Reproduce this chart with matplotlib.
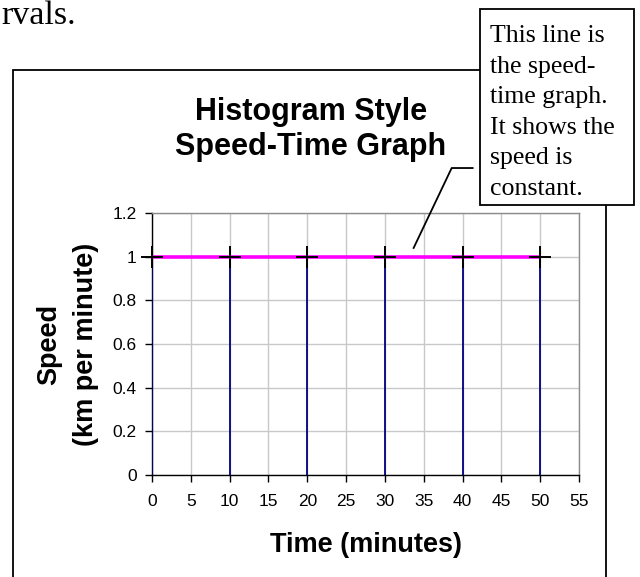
import matplotlib
matplotlib.use("Agg")
import matplotlib.pyplot as plt
from matplotlib.patches import Rectangle
from matplotlib.lines import Line2D

# ---- data ----
time_min = [0, 10, 20, 30, 40, 50]
speed = [1, 1, 1, 1, 1, 1]
x_ticks = [0, 5, 10, 15, 20, 25, 30, 35, 40, 45, 50, 55]
y_ticks = [0, 0.2, 0.4, 0.6, 0.8, 1.0, 1.2]
y_tick_labels = ["0", "0.2", "0.4", "0.6", "0.8", "1", "1.2"]
title_lines = ["Histogram Style", "Speed-Time Graph"]
callout_lines = ["This line is", "the speed-", "time graph.", "It shows the", "speed is", "constant."]

W, H = 640, 577
fig = plt.figure(figsize=(W / 100, H / 100), dpi=100)
fig.patch.set_facecolor("white")

def fx(px):
    return px / W

def fy(py):
    return 1 - py / H

SANS = ["Liberation Sans", "DejaVu Sans"]
SERIF = ["Liberation Serif", "DejaVu Serif"]

# outer chart frame (bottom runs off the page)
fig.add_artist(Rectangle((fx(13), fy(600)), fx(606) - fx(13), fy(70) - fy(600),
                         transform=fig.transFigure, fill=False, edgecolor="black",
                         linewidth=1.3, zorder=1))

# text fragment at top-left
fig.text(fx(1), fy(24), "rvals.", family=SERIF, fontsize=24.5, ha="left", va="baseline")

# axes
ax = fig.add_axes([fx(152), fy(475), fx(579) - fx(152), fy(213) - fy(475)])
ax.set_xlim(0, 55)
ax.set_ylim(0, 1.2)
ax.set_xticks(x_ticks)
ax.set_xticklabels([str(v) for v in x_ticks])
ax.set_yticks(y_ticks)
ax.set_yticklabels(y_tick_labels)
ax.grid(True, color="#c8c8c8", linewidth=1.0)
ax.set_axisbelow(True)
for s in ["top", "right"]:
    ax.spines[s].set_color("#8c8c8c")
    ax.spines[s].set_linewidth(1.0)
for s in ["left", "bottom"]:
    ax.spines[s].set_color("black")
    ax.spines[s].set_linewidth(1.0)
ax.tick_params(axis="x", direction="out", length=5, width=1, pad=9, labelsize=12.5)
ax.tick_params(axis="y", direction="out", length=5, width=1, pad=6, labelsize=12.5)
for lab in ax.get_xticklabels() + ax.get_yticklabels():
    lab.set_family(SANS)

# blue vertical bars
ax.vlines(time_min, 0, speed, colors="#000080", linewidth=1.3, zorder=3)
# magenta speed line
ax.plot(time_min, speed, color="#ff00ff", linewidth=2.6, zorder=4, solid_capstyle="butt")
# black plus markers
ax.plot(time_min, speed, linestyle="none", marker="+", markersize=16,
        markeredgewidth=1.4, color="black", zorder=5, clip_on=False)

# callout leader line
ax.add_line(Line2D([33.7, 38.6, 41.3], [1.04, 1.406, 1.406], color="black",
                   linewidth=1.3, clip_on=False, zorder=6))

# titles
fig.text(fx(311), fy(120), title_lines[0], family=SANS, fontsize=22, fontweight="bold",
         ha="center", va="baseline")
fig.text(fx(311), fy(155), title_lines[1], family=SANS, fontsize=22, fontweight="bold",
         ha="center", va="baseline")

# axis labels
fig.text(fx(365.5), fy(552), "Time (minutes)", family=SANS, fontsize=19.5,
         fontweight="bold", ha="center", va="baseline")
fig.text(fx(49), fy(344), "Speed", family=SANS, fontsize=19.5, fontweight="bold",
         rotation=90, ha="center", va="center")
fig.text(fx(86), fy(344), "(km per minute)", family=SANS, fontsize=19.5,
         fontweight="bold", rotation=90, ha="center", va="center")

# callout box
fig.add_artist(Rectangle((fx(480), fy(205)), fx(634) - fx(480), fy(9) - fy(205),
                         transform=fig.transFigure, facecolor="white", edgecolor="black",
                         linewidth=1.3, zorder=10))
base = 42
step = 30.6
for i, line in enumerate(callout_lines):
    t = fig.text(fx(490), fy(base + i * step), line, family=SERIF, fontsize=18.6,
                 ha="left", va="baseline")
    t.set_zorder(11)

fig.savefig("out.png", dpi=100)
